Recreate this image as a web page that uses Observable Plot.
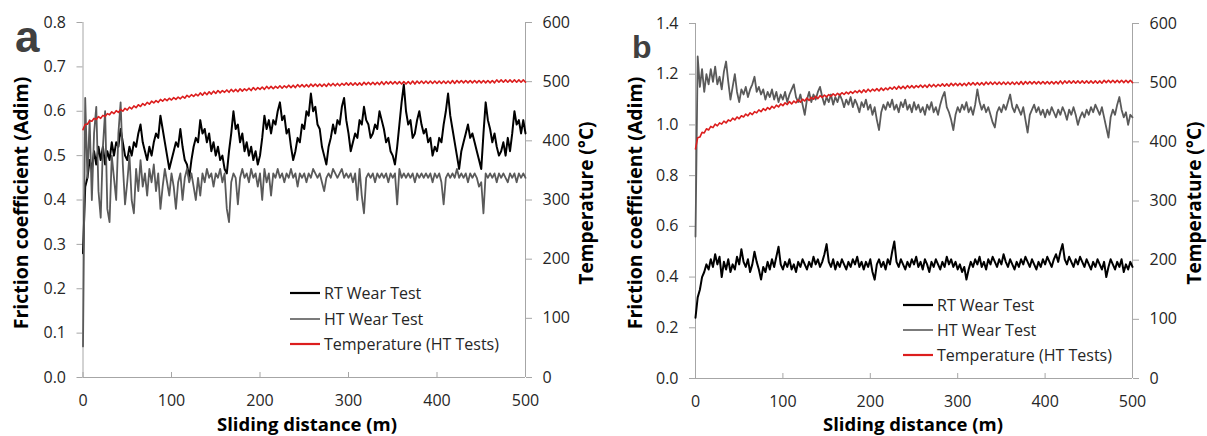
<!DOCTYPE html>
<html><head><meta charset="utf-8">
<script src="https://cdn.jsdelivr.net/npm/d3@7"></script>
<script src="https://cdn.jsdelivr.net/npm/@observablehq/plot@0.6"></script>
<style>
body{margin:0;background:#fff;}
#wrap{position:relative;width:1207px;height:436px;overflow:hidden;}
#plots{display:flex;}
#over{position:absolute;left:0;top:0;pointer-events:none;}
</style></head><body>
<div id="wrap"><div id="plots"></div><svg id="over" width="1207" height="436"></svg></div>
<script>
// Sliding distance sampled every 2.5 m (0..500)
const distance = d3.range(0, 500.001, 2.5);
const xTicks = [0, 100, 200, 300, 400, 500];
const yTicksA = [0, 0.1, 0.2, 0.3, 0.4, 0.5, 0.6, 0.7, 0.8];
const yTicksB = [0, 0.2, 0.4, 0.6, 0.8, 1.0, 1.2, 1.4];
const tempTicks = [0, 100, 200, 300, 400, 500, 600];
const seriesNames = ["RT Wear Test", "HT Wear Test", "Temperature (HT Tests)"];

// Panel a
const rtA = [
.28,.43,.45,.49,.47,.51,.48,.52,.49,.52,
.48,.51,.49,.53,.50,.53,.52,.56,.53,.50,
.49,.52,.50,.53,.52,.55,.57,.53,.51,.49,
.52,.50,.53,.55,.54,.59,.56,.53,.50,.47,
.49,.51,.53,.52,.56,.52,.49,.48,.45,.49,
.52,.54,.53,.58,.55,.56,.53,.55,.51,.53,
.50,.52,.49,.50,.47,.46,.51,.55,.60,.56,
.57,.53,.55,.51,.53,.50,.52,.49,.51,.48,
.50,.54,.59,.56,.58,.55,.58,.57,.60,.62,
.58,.59,.55,.56,.52,.49,.51,.54,.53,.57,
.56,.60,.59,.64,.60,.61,.57,.56,.52,.50,
.48,.52,.54,.57,.55,.58,.57,.61,.63,.58,
.55,.51,.53,.55,.54,.58,.57,.61,.58,.57,
.54,.55,.57,.56,.60,.58,.56,.53,.54,.51,
.50,.48,.52,.57,.62,.66,.60,.57,.58,.54,
.55,.58,.60,.57,.55,.56,.53,.54,.50,.52,
.51,.54,.53,.57,.60,.64,.59,.56,.53,.50,
.47,.51,.53,.55,.57,.54,.55,.53,.51,.49,
.47,.55,.62,.58,.56,.53,.55,.52,.50,.51,
.53,.50,.54,.51,.55,.60,.57,.58,.55,.58,
.55];
const htA = [
.07,.63,.45,.58,.40,.55,.61,.42,.36,.52,
.60,.38,.35,.50,.45,.40,.55,.62,.48,.39,
.44,.50,.40,.37,.47,.42,.49,.43,.46,.41,
.47,.44,.48,.42,.46,.38,.43,.47,.44,.41,
.46,.43,.38,.44,.46,.40,.45,.47,.44,.46,
.43,.40,.45,.41,.46,.44,.47,.45,.46,.43,
.46,.45,.47,.44,.46,.38,.35,.44,.46,.45,
.39,.45,.47,.45,.46,.44,.47,.45,.46,.43,
.46,.40,.47,.44,.46,.41,.46,.45,.47,.45,
.46,.44,.46,.45,.47,.45,.46,.43,.46,.45,
.46,.44,.46,.45,.47,.46,.45,.46,.44,.42,
.45,.46,.45,.47,.46,.45,.46,.47,.45,.46,
.45,.46,.44,.46,.40,.47,.41,.37,.45,.46,
.45,.46,.44,.46,.45,.46,.45,.46,.44,.46,
.45,.46,.39,.47,.45,.46,.45,.46,.45,.46,
.44,.46,.45,.46,.45,.46,.45,.46,.44,.46,
.45,.46,.44,.39,.45,.46,.45,.46,.45,.47,
.45,.46,.45,.46,.44,.46,.45,.46,.45,.43,
.44,.37,.46,.45,.46,.45,.46,.44,.46,.45,
.46,.45,.44,.46,.45,.46,.44,.46,.45,.46,
.45];
const tempA = [
419,428,428,434,433,438,436,441,438,443,
441,446,444,449,446,451,448,453,450,455,
452,457,454,459,456,461,458,463,460,465,
462,467,464,468,465,470,467,471,468,472,
469,473,470,474,471,475,472,477,474,478,
475,479,476,481,477,482,478,483,479,484,
480,485,481,485,482,486,482,487,483,487,
483,488,484,488,485,489,485,490,486,490,
487,491,487,492,488,492,488,492,489,493,
489,493,490,494,490,494,490,495,491,495,
491,495,491,496,492,496,492,496,492,496,
492,497,493,497,493,497,493,497,494,498,
494,498,494,498,494,498,494,499,495,499,
495,499,495,499,495,500,495,500,496,500,
496,500,496,500,496,500,496,500,496,501,
496,501,497,501,497,501,497,501,497,501,
497,501,497,501,497,501,497,502,497,502,
498,502,498,502,498,502,498,502,498,502,
498,502,498,502,498,502,498,503,499,503,
499,503,499,503,499,503,499,503,499,503,
499];

// Panel b
const rtB = [
.24,.32,.35,.40,.42,.45,.43,.47,.44,.49,
.45,.48,.40,.46,.43,.47,.42,.45,.43,.48,
.45,.51,.46,.44,.47,.42,.45,.50,.46,.43,
.39,.44,.42,.46,.43,.47,.44,.48,.52,.45,
.43,.46,.44,.47,.43,.45,.42,.46,.44,.47,
.45,.43,.46,.44,.48,.45,.47,.44,.46,.49,
.53,.46,.44,.47,.43,.46,.44,.47,.45,.43,
.46,.44,.47,.45,.48,.44,.46,.43,.46,.44,
.47,.42,.39,.45,.47,.44,.46,.43,.47,.45,
.50,.54,.46,.44,.47,.45,.43,.46,.44,.47,
.45,.48,.44,.46,.43,.47,.45,.42,.46,.44,
.47,.45,.43,.46,.44,.48,.45,.47,.44,.46,
.43,.45,.42,.44,.39,.43,.46,.44,.47,.45,
.48,.44,.46,.43,.47,.45,.48,.46,.44,.47,
.45,.49,.46,.44,.47,.45,.43,.46,.44,.47,
.45,.48,.46,.44,.47,.45,.43,.46,.44,.47,
.45,.48,.46,.44,.47,.49,.46,.50,.53,.47,
.45,.48,.46,.44,.47,.45,.48,.46,.44,.47,
.45,.43,.46,.44,.47,.45,.43,.46,.40,.44,
.47,.45,.43,.46,.44,.47,.42,.45,.43,.46,
.44];
const htB = [
.56,1.27,1.15,1.22,1.13,1.20,1.16,1.22,1.17,1.23,
1.16,1.19,1.14,1.21,1.25,1.17,1.10,1.15,1.20,1.13,
1.09,1.14,1.12,1.15,1.11,1.14,1.16,1.19,1.13,1.15,
1.12,1.14,1.10,1.13,1.11,1.14,1.10,1.13,1.09,1.12,
1.10,1.13,1.09,1.12,1.14,1.16,1.11,1.09,1.12,1.08,
1.04,1.10,1.13,1.09,1.12,1.10,1.13,1.15,1.11,1.08,
1.11,1.09,1.12,1.08,1.11,1.09,1.12,1.10,1.07,1.10,
1.08,1.11,1.07,1.10,1.08,1.05,1.09,1.07,1.10,1.06,
1.08,1.04,1.07,1.02,0.98,1.05,1.08,1.06,1.09,1.07,
1.10,1.06,1.08,1.05,1.09,1.07,1.10,1.06,1.08,1.05,
1.09,1.06,1.08,1.05,1.07,1.04,1.08,1.06,1.09,1.05,
1.07,1.04,1.08,1.11,1.13,1.07,1.05,1.02,0.98,1.04,
1.07,1.05,1.08,1.06,1.09,1.05,1.07,1.04,1.08,1.14,
1.09,1.06,1.08,1.05,1.07,1.04,1.01,0.99,1.05,1.07,
1.05,1.08,1.06,1.09,1.12,1.07,1.05,1.08,1.06,1.04,
1.07,1.02,0.97,1.04,1.06,1.08,1.05,1.07,1.04,1.06,
1.03,1.06,1.04,1.07,1.05,1.03,1.06,1.04,1.07,1.05,
1.02,1.06,1.04,1.07,1.04,1.00,1.03,1.05,1.03,1.06,
1.04,1.07,1.05,1.08,1.06,1.04,1.07,1.03,0.99,0.95,
1.03,1.06,1.04,1.08,1.11,1.06,1.03,1.05,1.00,1.04,
1.03];
const tempB = [
388,407,408,416,415,422,420,426,424,430,
427,432,430,435,432,437,435,440,437,442,
439,444,442,447,444,449,446,451,449,454,
451,456,453,458,455,460,457,462,459,464,
461,466,463,468,464,469,466,471,467,472,
469,474,470,475,472,477,473,478,475,479,
476,480,477,481,478,482,479,483,480,484,
481,485,482,486,483,487,483,488,484,489,
485,489,486,490,486,491,487,491,488,492,
489,493,489,494,490,494,490,495,491,495,
491,495,492,496,492,496,492,497,493,497,
493,497,494,498,494,498,494,499,495,499,
495,499,495,499,495,500,496,500,496,500,
496,500,496,501,497,501,497,501,497,501,
497,501,497,501,497,501,497,501,497,502,
497,502,498,502,498,502,498,502,498,502,
498,502,498,502,498,502,498,503,498,503,
499,503,499,503,499,503,499,503,499,503,
499,503,499,503,499,503,499,504,500,504,
500,504,500,504,500,504,500,504,500,504,
500];

const axisColor = "#a6a6a6";
const colors = {rt: "#000000", ht: "#5a5a5a", t: "#dc1e1e"};

function panel({width, ml, mr, mt, mb, ymax, yTicks, rt, ht, temp}) {
  const k = ymax / 600; // temperature axis 0..600 maps onto friction axis 0..ymax
  const rows = distance.map((d, i) => ({d, rt: rt[i], ht: ht[i], t: temp[i] * k}));
  return Plot.plot({
    width, height: 436, marginLeft: ml, marginRight: mr, marginTop: mt, marginBottom: mb,
    style: {fontFamily: "Open Sans", fontSize: "16px", color: "#262626", background: "#fff", overflow: "visible"},
    x: {domain: [0, 500]},
    y: {domain: [0, ymax]},
    marks: [
      Plot.ruleY([0], {stroke: axisColor}),
      Plot.ruleX([0], {stroke: axisColor}),
      Plot.ruleX([500], {stroke: axisColor}),
      Plot.axisX({ticks: xTicks, tickSize: 0, tickPadding: 17, tickFormat: d => String(d), label: null}),
      Plot.axisX({ticks: xTicks, tickSize: 5, dy: -5, tickFormat: () => "", stroke: axisColor, label: null}),
      Plot.axisY({ticks: yTicks, tickSize: 6, tickPadding: 11, tickFormat: d3.format(".1f"), stroke: axisColor, label: null}),
      Plot.axisY({anchor: "right", ticks: tempTicks.map(t => t * k), tickSize: 6, tickPadding: 11,
                  tickFormat: d => String(Math.round(d / k)), stroke: axisColor, label: null}),
      Plot.line(rows, {x: "d", y: "rt", stroke: colors.rt, strokeWidth: 2}),
      Plot.line(rows, {x: "d", y: "ht", stroke: colors.ht, strokeWidth: 1.8}),
      Plot.line(rows, {x: "d", y: "t", stroke: colors.t, strokeWidth: 1.6})
    ]
  });
}

const plots = document.getElementById("plots");
plots.append(panel({width: 603, ml: 82.5, mr: 78, mt: 22, mb: 59, ymax: 0.8, yTicks: yTicksA, rt: rtA, ht: htA, temp: tempA}));
plots.append(panel({width: 604, ml: 92, mr: 75, mt: 23, mb: 58, ymax: 1.4, yTicks: yTicksB, rt: rtB, ht: htB, temp: tempB}));

// Overlay: titles, panel letters, legends
const over = d3.select("#over");
const titleFont = "Open Sans";
const panels = [
  {letter: "a", lx: 15, ly: 52, lsize: 44, yt: [20, 203], tt: [586, 203], xt: [307, 431],
   leg: {x1: 290, x2: 320, tx: 324, ys: [293, 319, 344]}},
  {letter: "b", lx: 632, ly: 58, lsize: 32, yt: [634, 203], tt: [1194, 203], xt: [913, 431],
   leg: {x1: 903, x2: 933, tx: 937, ys: [305, 330, 355]}}
];
const legColors = [colors.rt, colors.ht, colors.t];
const legWidths = [2.2, 1.6, 2.2];
for (const p of panels) {
  over.append("text").attr("x", p.lx).attr("y", p.ly).text(p.letter)
    .attr("font-family", "Liberation Sans, Arial, sans-serif").attr("font-weight", "bold")
    .attr("font-size", p.lsize).attr("fill", "#404040");
  over.append("text").attr("transform", `translate(${p.yt[0]},${p.yt[1]}) rotate(-90)`)
    .attr("text-anchor", "middle").attr("dominant-baseline", "central")
    .attr("font-family", titleFont).attr("font-weight", "bold").attr("font-size", 19.5).attr("fill", "#000")
    .text("Friction coefficient (Adim)");
  over.append("text").attr("transform", `translate(${p.tt[0]},${p.tt[1]}) rotate(-90)`)
    .attr("text-anchor", "middle").attr("dominant-baseline", "central")
    .attr("font-family", titleFont).attr("font-weight", "bold").attr("font-size", 19).attr("fill", "#000")
    .text("Temperature (°C)");
  over.append("text").attr("x", p.xt[0]).attr("y", p.xt[1]).attr("text-anchor", "middle")
    .attr("font-family", titleFont).attr("font-weight", "bold").attr("font-size", 18.5).attr("fill", "#000")
    .text("Sliding distance (m)");
  seriesNames.forEach((name, i) => {
    const y = p.leg.ys[i];
    over.append("line").attr("x1", p.leg.x1).attr("x2", p.leg.x2).attr("y1", y).attr("y2", y)
      .attr("stroke", legColors[i]).attr("stroke-width", legWidths[i]);
    over.append("text").attr("x", p.leg.tx).attr("y", y).attr("dominant-baseline", "central")
      .attr("font-family", "Open Sans").attr("font-size", 16).attr("fill", "#262626").text(name);
  });
}
</script>
</body></html>
